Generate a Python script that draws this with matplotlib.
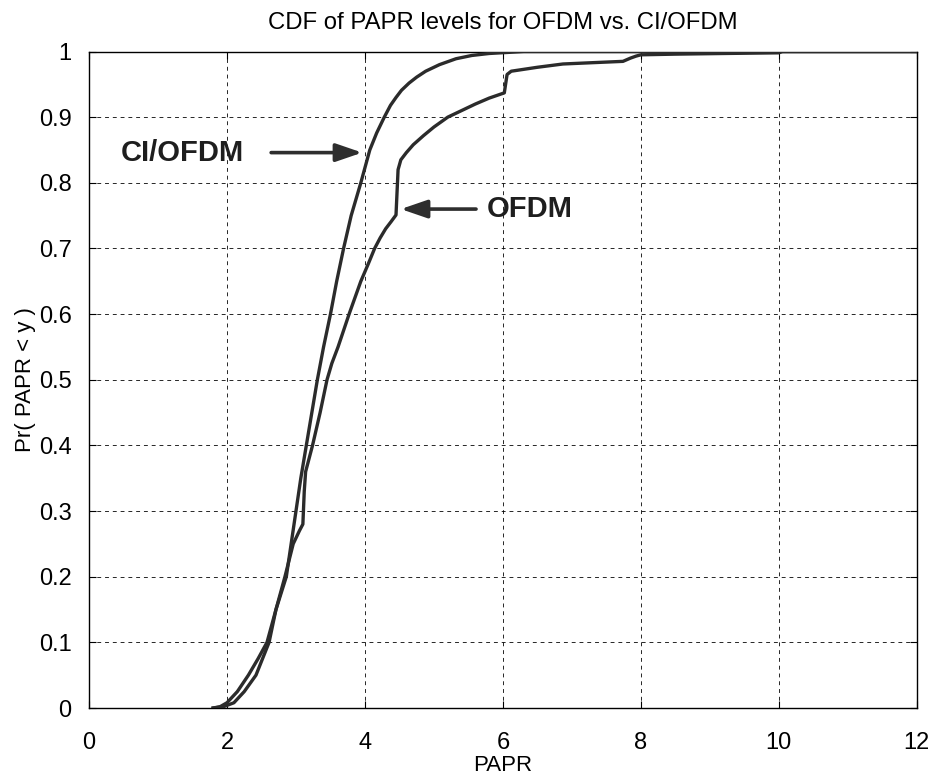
import matplotlib
matplotlib.use("Agg")
import matplotlib.pyplot as plt
import numpy as np

plt.rcParams['font.family'] = ['Liberation Sans', 'DejaVu Sans']

# CDF of PAPR for CI/OFDM (steeper curve)
ci_papr = [1.80, 1.95, 2.10, 2.25, 2.42, 2.61, 2.71, 2.86, 2.93, 3.00, 3.07,
           3.15, 3.23, 3.31, 3.40, 3.50, 3.59, 3.69, 3.80, 3.94, 4.07, 4.17,
           4.28, 4.37, 4.45, 4.53, 4.64, 4.75, 4.88, 5.08, 5.32, 5.55, 5.80,
           6.30, 12.0]
ci_cdf = [0.000, 0.002, 0.008, 0.025, 0.050, 0.100, 0.150, 0.200, 0.250, 0.300, 0.350,
          0.400, 0.450, 0.500, 0.550, 0.600, 0.650, 0.700, 0.750, 0.800, 0.850, 0.876,
          0.900, 0.918, 0.930, 0.941, 0.952, 0.961, 0.970, 0.980, 0.989, 0.994, 0.997,
          1.000, 1.000]

# CDF of PAPR for plain OFDM (wider spread, with steps)
ofdm_papr = [1.80, 1.90, 2.00, 2.15, 2.31, 2.45, 2.58, 2.71, 2.84, 2.96, 3.05,
             3.10, 3.12, 3.14, 3.24, 3.35, 3.40, 3.45, 3.52, 3.61, 3.77, 3.94,
             4.05, 4.14, 4.22, 4.30, 4.38, 4.45, 4.48, 4.52, 4.60, 4.70, 4.85,
             5.00, 5.20, 5.40, 5.60, 5.80, 6.02, 6.06, 6.12, 6.50, 6.87, 7.30,
             7.74, 7.85, 7.93, 8.00, 8.50, 9.20, 10.00, 10.05, 12.0]
ofdm_cdf = [0.000, 0.002, 0.008, 0.025, 0.050, 0.075, 0.100, 0.150, 0.200, 0.250, 0.270,
            0.280, 0.330, 0.360, 0.400, 0.450, 0.475, 0.500, 0.525, 0.550, 0.600, 0.650,
            0.677, 0.700, 0.716, 0.730, 0.741, 0.751, 0.820, 0.835, 0.846, 0.858, 0.872,
            0.885, 0.900, 0.910, 0.920, 0.929, 0.937, 0.965, 0.970, 0.976, 0.981, 0.983,
            0.985, 0.990, 0.993, 0.995, 0.996, 0.997, 0.998, 1.000, 1.000]

x_ticks = [0, 2, 4, 6, 8, 10, 12]
y_ticks = [0, 0.1, 0.2, 0.3, 0.4, 0.5, 0.6, 0.7, 0.8, 0.9, 1]
y_tick_labels = ['0', '0.1', '0.2', '0.3', '0.4', '0.5', '0.6', '0.7', '0.8', '0.9', '1']

fig = plt.figure(figsize=(9.39, 7.77), dpi=100)
ax = fig.add_axes([0.0948, 0.0888, 0.8816, 0.8449])

line_color = '#2b2b2b'
ax.plot(ci_papr, ci_cdf, color=line_color, lw=2.4, solid_joinstyle='round', zorder=3)
ax.plot(ofdm_papr, ofdm_cdf, color=line_color, lw=2.4, solid_joinstyle='round', zorder=3)

ax.set_xlim(0, 12)
ax.set_ylim(0, 1)
ax.set_xticks(x_ticks)
ax.set_xticklabels([str(t) for t in x_ticks])
ax.set_yticks(y_ticks)
ax.set_yticklabels(y_tick_labels)

ax.grid(True, color='black', linestyle=(0, (4, 4)), linewidth=0.7, alpha=0.85)
ax.tick_params(direction='in', length=5, width=0.8, labelsize=17, top=True, right=True)
ax.tick_params(axis='x', pad=17)
ax.tick_params(axis='y', pad=12.5)
for s in ax.spines.values():
    s.set_linewidth(1.0)
    s.set_color('black')

ax.set_title('CDF of PAPR levels for OFDM vs. CI/OFDM', fontsize=17.2, pad=16)
ax.set_xlabel('PAPR', fontsize=16, labelpad=1)
ax.set_ylabel('Pr( PAPR < y )', fontsize=16, labelpad=2)

# labelled arrows pointing at each curve
arrow_style = dict(arrowstyle='-|>,head_length=1.6,head_width=0.55', color='#2e2e2e',
                   lw=2.6, shrinkA=0, shrinkB=0)
ax.annotate('', xy=(3.96, 0.846), xytext=(2.64, 0.846), arrowprops=arrow_style, zorder=4)
ax.text(0.46, 0.846, 'CI/OFDM', fontsize=21, fontweight='bold', color='#1e1e1e',
        va='center', ha='left', zorder=4)
ax.annotate('', xy=(4.52, 0.760), xytext=(5.61, 0.760), arrowprops=arrow_style, zorder=4)
ax.text(5.76, 0.760, 'OFDM', fontsize=21, fontweight='bold', color='#1e1e1e',
        va='center', ha='left', zorder=4)

fig.savefig('out.png', dpi=100)
